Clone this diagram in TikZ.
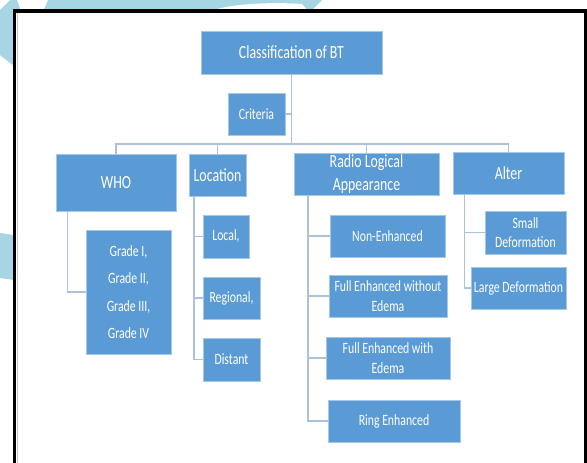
\documentclass[tikz,border=0pt]{standalone}
\usepackage{fontspec}
\setmainfont{Carlito}[FakeStretch=0.75]
\definecolor{boxblue}{RGB}{91,155,213}
\definecolor{deco}{RGB}{166,214,227}
\definecolor{conncol}{RGB}{172,194,220}
\tikzset{
  box/.style={fill=boxblue, draw=boxblue!55!white, line width=0.6pt, text=white,
    inner sep=0pt, outer sep=0pt, align=center},
  bigtxt/.style={font=\fontsize{18.5}{23.3}\selectfont},
  smalltxt/.style={font=\fontsize{15.7}{19.3}\selectfont},
  conn/.style={draw=conncol, line width=1.3pt},
}
\begin{document}
\begin{tikzpicture}[x=1pt,y=1pt]
\clip (0,0) rectangle (587,-463);
% decorative background shapes
\fill[deco] (10,0) -- (17,0) -- (22,-15) -- (14,-66) -- (0,-55) -- (0,-10) -- cycle;
\fill[deco] (48,0) -- (322,0) -- (310,-12) -- (43,-12) -- cycle;
\fill[white] (208,-12) .. controls (230,-3) and (275,-2) .. (302,-4) -- (309,-12) -- cycle;
\fill[deco] (0,-233) -- (14,-235) -- (14,-280) -- (0,-278) -- cycle;
% frame
\draw[black, line width=3.3pt, fill=white] (14.75,-11) rectangle (585.5,-480);
\draw[black!22, line width=0.6pt] (16.9,-13) -- (16.9,-463);
% nodes
\node[box, bigtxt, minimum width=181, minimum height=43] (cls) at (291.5,-52.5) {Classification of BT};
\node[box, smalltxt, minimum width=57, minimum height=42] (crit) at (256.5,-114) {Criteria};
\node[box, bigtxt, minimum width=120, minimum height=57] (who) at (116,-182.5) {WHO};
\node[box, bigtxt, minimum width=57, minimum height=42] (loc) at (217.5,-175) {Location};
\node[box, bigtxt, minimum width=145, minimum height=42] (radio) at (366.5,-174) {Radio Logical\\Appearance};
\node[box, bigtxt, minimum width=111, minimum height=42] (alter) at (508.5,-173) {Alter};
\node[box, font=\fontsize{15.7}{27.3}\selectfont, minimum width=85, minimum height=124] (grades) at (128.5,-292) {Grade I,\\Grade II,\\Grade III,\\Grade IV};
\node[box, smalltxt, minimum width=46, minimum height=43] (local) at (226,-236.5) {Local,};
\node[box, smalltxt, minimum width=57, minimum height=42] (regional) at (231.5,-298) {Regional,};
\node[box, smalltxt, minimum width=57, minimum height=43] (distant) at (231.5,-359.5) {Distant};
\node[box, smalltxt, minimum width=115, minimum height=42] (nonenh) at (387.5,-236) {Non-Enhanced};
\node[box, smalltxt, minimum width=118, minimum height=42] (fullwo) at (388,-296) {Full Enhanced without\\Edema};
\node[box, smalltxt, minimum width=124, minimum height=42] (fullw) at (388,-358) {Full Enhanced with\\Edema};
\node[box, smalltxt, minimum width=132, minimum height=42] (ring) at (394,-421) {Ring Enhanced};
\node[box, smalltxt, minimum width=81, minimum height=43] (small) at (525.5,-232.5) {Small\\Deformation};
\node[box, smalltxt, minimum width=95, minimum height=42] (large) at (518.5,-288) {Large Deformation};
% connectors
\coordinate (bus) at (0,-144);
\draw[conn] (cls.south) -- (cls.south |- bus);
\draw[conn] (who.north) -- (who.north |- bus) -- (alter.north |- bus) -- (alter.north);
\draw[conn] (loc.north) -- (loc.north |- bus);
\draw[conn] (radio.north) -- (radio.north |- bus);
\draw[conn] (crit.east) -- (crit.east -| cls.south);
\draw[conn] ([xshift=11.7pt]who.south west) |- (grades.west);
\coordinate (lx) at ([xshift=5pt]loc.south west);
\draw[conn] (lx) |- (distant.west);
\draw[conn] (lx |- local.west) -- (local.west);
\draw[conn] (lx |- regional.west) -- (regional.west);
\coordinate (rx) at ([xshift=14pt]radio.south west);
\draw[conn] (rx) |- (ring.west);
\draw[conn] (rx |- nonenh.west) -- (nonenh.west);
\draw[conn] (rx |- fullwo.west) -- (fullwo.west);
\draw[conn] (rx |- fullw.west) -- (fullw.west);
\coordinate (ax) at ([xshift=11.3pt]alter.south west);
\draw[conn] (ax) |- (large.west);
\draw[conn] (ax |- small.west) -- (small.west);
\end{tikzpicture}
\end{document}
